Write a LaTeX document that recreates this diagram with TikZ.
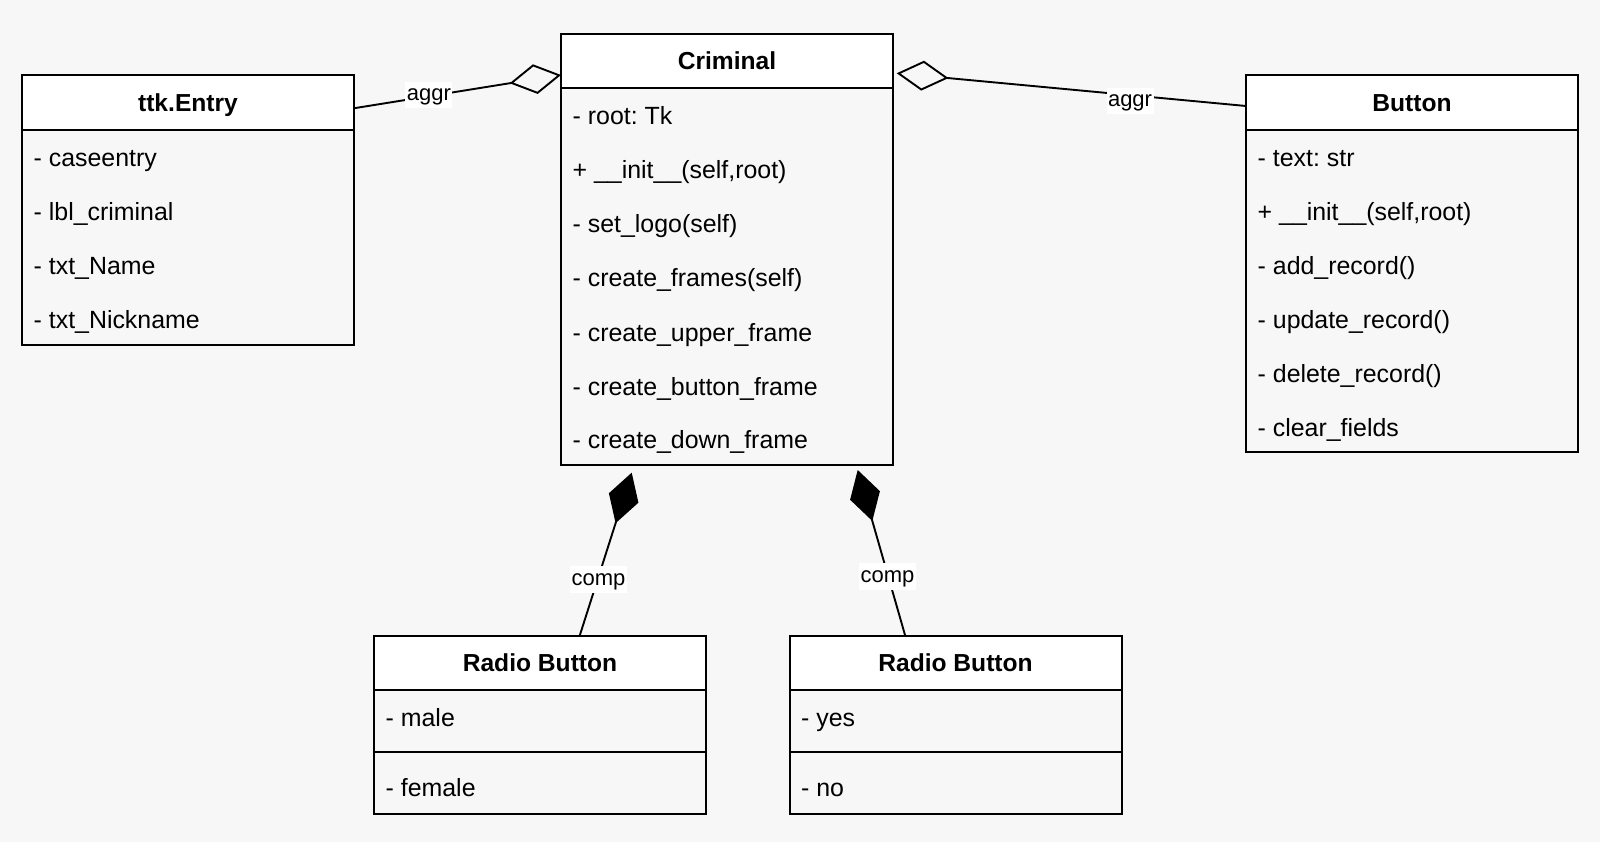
\documentclass[tikz,border=0pt]{standalone}
\usepackage{fontspec}
\setmainfont{Liberation Sans}
\usetikzlibrary{arrows.meta}
\definecolor{bgc}{HTML}{F7F7F7}
\tikzset{
 box/.style={draw=black, line width=2pt, rectangle, minimum width=332pt, outer sep=0pt, inner sep=0pt, anchor=north west},
 hdr/.style={box, fill=white, minimum height=54.5pt, font=\fontsize{24.6}{29}\selectfont\bfseries, text height=17.5pt, text depth=0pt},
 body/.style={box, fill=bgc},
 row/.style={anchor=base west, inner sep=0pt, font=\fontsize{24.9}{29}\selectfont\frenchspacing},
 lbl/.style={fill=white, inner sep=1.5pt, font=\fontsize{22}{26}\selectfont, text height=17.4pt, text depth=6pt},
 aggrline/.style={line width=1.9pt, -{Diamond[open, length=52pt, width=30pt]}},
 compline/.style={line width=1.9pt, -{Diamond[length=53pt, width=31pt]}},
}
\begin{document}
\begin{tikzpicture}[x=1pt, y=-1pt]
\fill[bgc] (0,0) rectangle (1600,842);
\useasboundingbox (0,0) rectangle (1600,842);

% ttk.Entry
\node[hdr] (entH) at (22,75.5) {ttk.Entry};
\node[body, minimum height=214.5pt] (entB) at (entH.south west) {};
\node[row] (ent1) at (33.5,166.4) {- caseentry};
\node[row] (ent2) at (33.5,220.5) {- lbl\_criminal};
\node[row] (ent3) at (33.5,274.6) {- txt\_Name};
\node[row] (ent4) at (33.5,328.7) {- txt\_Nickname};

% Criminal
\node[hdr] (crimH) at (561,34) {Criminal};
\node[body, minimum height=376.5pt] (crimB) at (crimH.south west) {};
\node[row] (crim1) at (572.5,124.6) {- root: Tk};
\node[row] (crim2) at (572.5,178.7) {+ \_\_init\_\_(self,root)};
\node[row] (crim3) at (572.5,232.8) {- set\_logo(self)};
\node[row] (crim4) at (572.5,286.9) {- create\_frames(self)};
\node[row] (crim5) at (572.5,341.0) {- create\_upper\_frame};
\node[row] (crim6) at (572.5,395.1) {- create\_button\_frame};
\node[row] (crim7) at (572.5,448.8) {- create\_down\_frame};

% Button
\node[hdr] (btnH) at (1246,75.5) {Button};
\node[body, minimum height=322pt] (btnB) at (btnH.south west) {};
\node[row] (btn1) at (1257.5,166.4) {- text: str};
\node[row] (btn2) at (1257.5,220.5) {+ \_\_init\_\_(self,root)};
\node[row] (btn3) at (1257.5,274.6) {- add\_record()};
\node[row] (btn4) at (1257.5,328.7) {- update\_record()};
\node[row] (btn5) at (1257.5,382.7) {- delete\_record()};
\node[row] (btn6) at (1257.5,436.4) {- clear\_fields};

% Radio Button 1
\node[hdr] (rbaH) at (374,635.7) {Radio Button};
\node[body, minimum height=61.7pt] (rbaB) at (rbaH.south west) {};
\node[body, minimum height=61.6pt] (rbaC) at (rbaB.south west) {};
\node[row] (rba1) at (385.5,726.5) {- male};
\node[row] (rba2) at (385.5,796.3) {- female};

% Radio Button 2
\node[hdr] (rbbH) at (789.5,635.7) {Radio Button};
\node[body, minimum height=61.7pt] (rbbB) at (rbbH.south west) {};
\node[body, minimum height=61.6pt] (rbbC) at (rbbB.south west) {};
\node[row] (rbb1) at (801,726.5) {- yes};
\node[row] (rbb2) at (801,796.3) {- no};

% connectors
\draw[aggrline] ([yshift=-5.5pt]entH.east) -- node[lbl, pos=0.362, yshift=1pt] (l1) {aggr} ([yshift=-13.75pt]crimH.west);
\draw[aggrline] ([yshift=-3.25pt]btnH.west) -- node[lbl, pos=0.332, yshift=-6pt] (l2) {aggr} ([xshift=3.7pt, yshift=-12pt]crimH.east);
\draw[compline] ([xshift=39.7pt]rbaH.north) -- node[lbl, pos=0.362, yshift=-3pt] (l3) {comp} ([xshift=-95.3pt, yshift=-7.7pt]crimB.south);
\draw[compline] ([xshift=-50.3pt]rbbH.north) -- node[lbl, pos=0.372, yshift=-2.5pt] (l4) {comp} ([xshift=130.7pt, yshift=-5pt]crimB.south);
\end{tikzpicture}
\end{document}
